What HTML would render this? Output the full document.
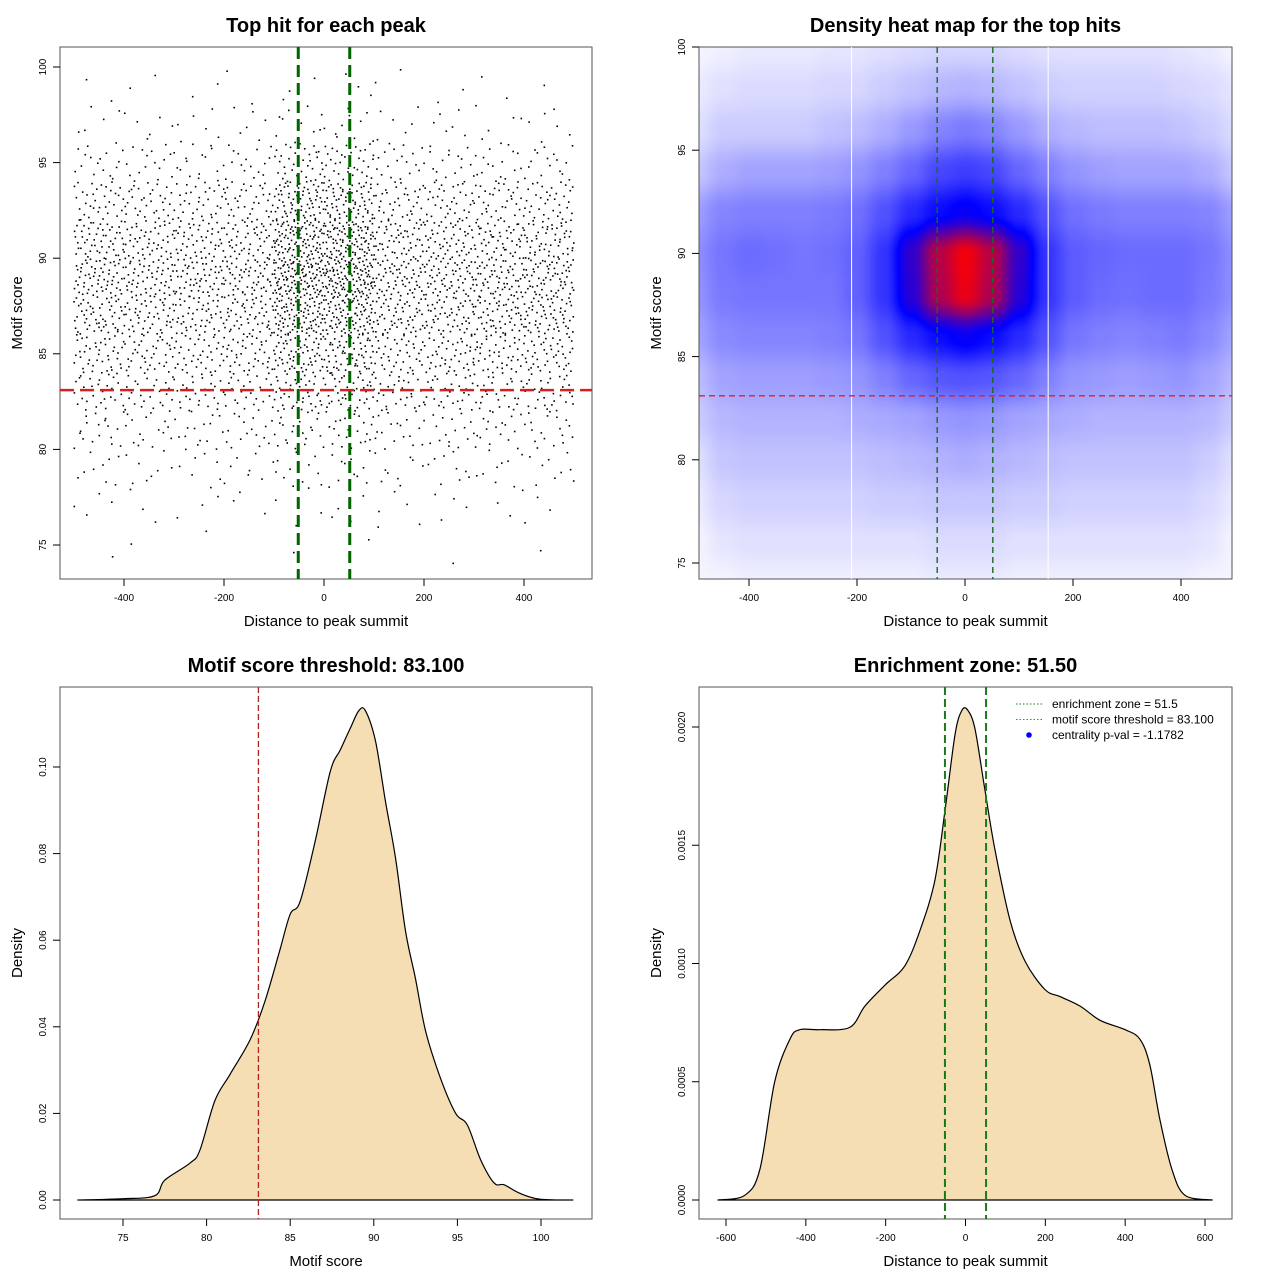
<!DOCTYPE html>
<html><head><meta charset="utf-8">
<style>
body{margin:0;background:#fff;}
#wrap{position:relative;width:1280px;height:1280px;overflow:hidden;font-family:"Liberation Sans",sans-serif;}
#heat{position:absolute;left:699px;top:47px;}
#svg{position:absolute;left:0;top:0;}
</style></head>
<body>
<div id="wrap">
<canvas id="heat" width="533" height="532"></canvas>
<svg id="svg" width="1280" height="1280" xmlns="http://www.w3.org/2000/svg"></svg>
</div>
<script>
// ---------- DATA ----------
const scoreBins = [99,97,95,93,91,89,87,85,83,81,79,77,75];
const distBins = [-450,-350,-250,-150,-50,50,150,250,350,450];
const cellCounts = [
 [2,2,2,2,3,3,2,2,2,1],
 [6,6,6,6,10,10,6,6,6,6],
 [16,16,16,16,35,35,18,18,16,16],
 [34,32,32,34,70,70,36,34,34,34],
 [52,48,48,50,100,100,54,52,52,54],
 [62,58,58,60,120,120,64,62,62,64],
 [55,50,50,52,95,95,55,55,58,60],
 [42,38,38,40,65,65,42,42,44,44],
 [30,27,27,28,42,42,30,30,30,30],
 [18,15,15,16,22,22,17,17,17,18],
 [9,8,8,8,11,11,9,9,9,9],
 [4,3,3,3,4,4,4,4,3,3],
 [1,1,1,0,1,1,1,1,0,1]
];
const zone = 51.5;
const threshold = 83.1;
const heatX = [-500,-450,-400,-350,-300,-250,-200,-150,-100,-50,0,50,100,150,200,250,300,350,400,450,500];
const heatY = [100,98,96,94,92,90,88,86,84,82,80,78,76,74];
const heatVals = [
 [.02,.03,.04,.04,.04,.05,.05,.06,.07,.08,.08,.08,.07,.06,.06,.06,.06,.06,.05,.04,.02],
 [.04,.06,.07,.07,.07,.08,.08,.1,.12,.14,.15,.14,.12,.1,.09,.09,.09,.09,.08,.07,.05],
 [.06,.1,.1,.1,.1,.12,.13,.16,.2,.24,.26,.24,.2,.16,.14,.13,.13,.13,.12,.1,.07],
 [.11,.16,.18,.18,.18,.19,.21,.25,.3,.36,.38,.36,.3,.25,.21,.19,.18,.18,.18,.16,.11],
 [.19,.24,.25,.25,.25,.26,.28,.34,.42,.48,.52,.48,.42,.34,.28,.26,.25,.25,.25,.24,.19],
 [.22,.27,.29,.28,.27,.28,.31,.4,.6,.86,.98,.86,.6,.4,.32,.3,.29,.29,.29,.27,.22],
 [.21,.26,.27,.27,.27,.27,.31,.4,.58,.84,.96,.84,.58,.4,.32,.29,.28,.29,.29,.26,.22],
 [.18,.23,.24,.24,.24,.25,.27,.34,.42,.48,.52,.48,.42,.34,.27,.25,.24,.25,.26,.23,.18],
 [.13,.18,.19,.19,.19,.2,.21,.25,.3,.33,.34,.33,.3,.25,.21,.2,.19,.2,.21,.18,.14],
 [.1,.14,.15,.15,.15,.15,.16,.17,.18,.2,.21,.2,.18,.17,.16,.15,.15,.15,.15,.14,.1],
 [.06,.11,.12,.12,.12,.12,.12,.13,.14,.15,.16,.15,.14,.13,.12,.12,.12,.12,.12,.1,.06],
 [.04,.08,.09,.09,.09,.09,.09,.1,.1,.11,.11,.11,.1,.1,.09,.09,.09,.09,.09,.07,.04],
 [.02,.05,.06,.06,.06,.06,.06,.06,.06,.07,.07,.07,.06,.06,.06,.06,.06,.06,.06,.05,.02],
 [.02,.02,.03,.03,.03,.03,.03,.03,.03,.04,.04,.04,.03,.03,.03,.03,.03,.03,.03,.02,.02]
];
const heatSeams = [-210,154];
const scoreX = [72.3,75,76.9,77.5,79,79.6,80.5,81.4,82.6,83.5,84.4,85,85.6,86.5,87.4,88,88.6,89.1,89.5,90.1,90.7,91.3,91.9,92.5,93.1,94,94.9,95.6,96.4,97.2,97.8,98.7,99.9,101.9];
const scoreD = [0,0.0003,0.001,0.0046,0.0085,0.0115,0.023,0.029,0.037,0.046,0.058,0.066,0.069,0.083,0.099,0.104,0.109,0.113,0.113,0.106,0.092,0.079,0.062,0.051,0.039,0.028,0.020,0.0173,0.0092,0.0039,0.0035,0.0016,0.0002,0];
const distX = [-620,-553,-515,-478,-440,-415,-365,-290,-252,-201,-152,-114,-77,-51,-26,-9,6,24,49,74,112,149,199,237,287,337,400,437,462,487,517,550,618];
const distD = [0,0.00002,0.00013,0.0005,0.00068,0.00072,0.00072,0.00073,0.00082,0.00091,0.00099,0.00114,0.00135,0.00165,0.00197,0.00207,0.00207,0.00199,0.00173,0.00148,0.00118,0.00101,0.00089,0.00086,0.00082,0.00076,0.00072,0.00068,0.00057,0.00034,0.00013,0.00002,0];
const ticks1X = [-400,-200,0,200,400];
const ticks1Y = [75,80,85,90,95,100];
const ticks3X = [75,80,85,90,95,100];
const ticks3Y = ["0.00","0.02","0.04","0.06","0.08","0.10"];
const ticks4X = [-600,-400,-200,0,200,400,600];
const ticks4Y = ["0.0000","0.0005","0.0010","0.0015","0.0020"];

// ---------- DRAWING ----------
const NS="http://www.w3.org/2000/svg";
const svg=document.getElementById('svg');
function el(tag,attrs,parent){const e=document.createElementNS(NS,tag);for(const k in attrs)e.setAttribute(k,attrs[k]);(parent||svg).appendChild(e);return e;}
function txt(s,x,y,size,opts,parent){const t=el('text',Object.assign({x:x,y:y,'font-size':size,'text-anchor':'middle',fill:'#000','font-family':'Liberation Sans, sans-serif'},opts||{}),parent);t.textContent=s;return t;}
function lin(d0,d1,p0,p1){return v=>p0+(v-d0)*(p1-p0)/(d1-d0);}

function frame(name,L,T,R,B,title,xlab,ylab){
  const g=el('g',{});
  
  
  const r=el('rect',{x:L,y:T,width:R-L,height:B-T,fill:'none',stroke:'#555','stroke-width':1},g);
  
  const t=txt(title,(L+R)/2,T-15,20,{'font-weight':'bold'},g);
  
  const xt=txt(xlab,(L+R)/2,B+47,15,{},g);
  
  const yt=txt(ylab,0,0,15,{transform:`translate(${L-38},${(T+B)/2}) rotate(-90)`},g);
  
  return g;
}
function axes(g,B,L,xs,xLabels,xScale,ys,yLabels,yScale){
  const ax=el('g',{},g);
  
  xs.forEach((v,i)=>{const x=xScale(v);el('line',{x1:x,x2:x,y1:B,y2:B+7,stroke:'#000'},ax);
    const t=txt(xLabels[i],x,B+22,10,{},ax);});
  const ay=el('g',{},g);
  
  ys.forEach((v,i)=>{const y=yScale(v);el('line',{x1:L-7,x2:L,y1:y,y2:y,stroke:'#000'},ay);
    const t=txt(yLabels[i],0,0,10,{transform:`translate(${L-14},${y}) rotate(-90)`},ay);});
}

// Panel 1: scatter
(function(){
  const L=60,T=47,R=592,B=579;
  const X=lin(0,400,324,524), Y=lin(75,100,545,67);
  const g=frame('scatter-panel',L,T,R,B,'Top hit for each peak','Distance to peak summit','Motif score');
  axes(g,B,L,ticks1X,ticks1X,X,ticks1Y,ticks1Y,Y);
  const pts=el('g',{fill:'#000'},g);
  
  function halton(i,b){let f=1,r=0;while(i>0){f/=b;r+=f*(i%b);i=Math.floor(i/b);}return r;}
  let idx=1;
  scoreBins.forEach((s,ri)=>{distBins.forEach((d,ci)=>{
    const n=cellCounts[ri][ci];
    for(let k=0;k<n;k++){idx++;
      const dx=d-50+100*halton(idx,2), sy=s-1+2*halton(idx,3);
      const c=el('rect',{x:(X(dx)-0.8).toFixed(1),y:(Y(sy)-0.8).toFixed(1),width:1.6,height:1.6},pts);
      
      
    }});});
  [-zone,zone].forEach(z=>{const l=el('line',{x1:X(z),x2:X(z),y1:T,y2:B,stroke:'#006400','stroke-width':3,'stroke-dasharray':'12,6'},g);
    });
  const h=el('line',{x1:L,x2:R,y1:Y(threshold),y2:Y(threshold),stroke:'#d62020','stroke-width':2.5,'stroke-dasharray':'14,6'},g);
  
})();

// Panel 2: heatmap
(function(){
  const L=699,T=47,R=1232,B=579;
  const X=lin(0,400,965,1181), Y=lin(75,100,563,47);
  const cv=document.getElementById('heat');const ctx=cv.getContext('2d');
  const W=cv.width,H=cv.height;const img=ctx.createImageData(W,H);
  function interp(arr,v){
    if(arr[0]<arr[arr.length-1]){for(let i=0;i<arr.length-1;i++){if(v<=arr[i+1])return i+Math.max(0,(v-arr[i])/(arr[i+1]-arr[i]));}return arr.length-1;}
    for(let i=0;i<arr.length-1;i++){if(v>=arr[i+1])return i+Math.max(0,(arr[i]-v)/(arr[i]-arr[i+1]));}return arr.length-1;}
  const Xi=lin(965,1181,0,400), Yi=lin(563,47,75,100);
  const sx=t=>t*t*(3-2*t);
  for(let py=0;py<H;py++){const sv=Yi(py+T);let fy=interp(heatY,sv);fy=Math.min(fy,heatY.length-1.0001);const iy=Math.floor(fy),ty=fy-iy;
    for(let px=0;px<W;px++){const dv=Xi(px+L);let fx=interp(heatX,dv);fx=Math.min(fx,heatX.length-1.0001);const ix=Math.floor(fx),tx=fx-ix;
      const a=sx(tx),b=sx(ty);
      const v=(heatVals[iy][ix]*(1-a)+heatVals[iy][ix+1]*a)*(1-b)+(heatVals[iy+1][ix]*(1-a)+heatVals[iy+1][ix+1]*a)*b;
      let r,gg,bb;
      if(v<0.5){const t=v/0.5;r=255*(1-t);gg=255*(1-t);bb=255;}else{const t=Math.min(1,(v-0.5)/0.5);r=255*t;gg=0;bb=255*(1-t);}
      const o=(py*W+px)*4;img.data[o]=r;img.data[o+1]=gg;img.data[o+2]=bb;img.data[o+3]=255;}}
  ctx.putImageData(img,0,0);
  const g=frame('heatmap-panel',L,T,R,B,'Density heat map for the top hits','Distance to peak summit','Motif score');
  axes(g,B,L,ticks1X,ticks1X,X,ticks1Y,ticks1Y,Y);
  heatSeams.forEach(s=>{const l=el('line',{x1:X(s),x2:X(s),y1:T,y2:B,stroke:'#fff','stroke-width':1},g);
    });
  [-zone,zone].forEach(z=>{const l=el('line',{x1:X(z),x2:X(z),y1:T,y2:B,stroke:'#1a6b1a','stroke-width':1.4,'stroke-dasharray':'6,4'},g);
    });
  const h=el('line',{x1:L,x2:R,y1:Y(threshold),y2:Y(threshold),stroke:'#e02020','stroke-width':1.4,'stroke-dasharray':'6,4'},g);
  
})();

function smoothPath(P){
  let d='M'+P[0][0].toFixed(1)+','+P[0][1].toFixed(1);
  for(let i=0;i<P.length-1;i++){
    const p0=P[Math.max(0,i-1)],p1=P[i],p2=P[i+1],p3=P[Math.min(P.length-1,i+2)];
    const c1=[p1[0]+(p2[0]-p0[0])/6,p1[1]+(p2[1]-p0[1])/6];
    const c2=[p2[0]-(p3[0]-p1[0])/6,p2[1]-(p3[1]-p1[1])/6];
    d+=` C${c1[0].toFixed(1)},${c1[1].toFixed(1)} ${c2[0].toFixed(1)},${c2[1].toFixed(1)} ${p2[0].toFixed(1)},${p2[1].toFixed(1)}`;
  }
  return d;
}
function densityPanel(name,L,T,R,B,title,xlab,xs,ys,X,Y,xt,xtl,yt,ytl){
  const g=frame(name,L,T,R,B,title,xlab,'Density');
  axes(g,B,L,xt,xtl,X,yt,ytl,Y);
  const P=xs.map((v,i)=>[X(v),Y(ys[i])]);
  const d=smoothPath(P)+' Z';
  const p=el('path',{d:d,fill:'#f5deb3',stroke:'#000','stroke-width':1.2,'stroke-linejoin':'round'},g);
  
  return g;
}
// Panel 3
(function(){
  const L=60,T=687,R=592,B=1219;
  const X=lin(75,100,123,541), Y=lin(0,0.1,1200,767);
  const g=densityPanel('score-density-panel',L,T,R,B,'Motif score threshold: 83.100','Motif score',scoreX,scoreD,X,Y,ticks3X,ticks3X,ticks3Y.map(Number),ticks3Y);
  const l=el('line',{x1:X(threshold),x2:X(threshold),y1:T,y2:B,stroke:'#b22222','stroke-width':1.3,'stroke-dasharray':'6,3'},g);
  
})();
// Panel 4
(function(){
  const L=699,T=687,R=1232,B=1219;
  const X=lin(0,600,965.5,1205), Y=lin(0,0.002,1200,727);
  const g=densityPanel('distance-density-panel',L,T,R,B,'Enrichment zone: 51.50','Distance to peak summit',distX,distD,X,Y,ticks4X,ticks4X,ticks4Y.map(Number),ticks4Y);
  [-zone,zone].forEach(z=>{const l=el('line',{x1:X(z),x2:X(z),y1:T,y2:B,stroke:'#1a7a1a','stroke-width':2,'stroke-dasharray':'8,4'},g);
    });
  const lg=el('g',{},g);
  
  const items=[['enrichment zone = 51.5','#1a7a1a','line'],['motif score threshold = 83.100','#f03030','line'],['centrality p-val = -1.1782','#0000ff','dot']];
  items.forEach((it,i)=>{const y=704+i*15.5;
    const e=el('g',{},lg);
    if(it[2]==='line')el('line',{x1:1016,x2:1042,y1:y,y2:y,stroke:it[1],'stroke-width':1,'stroke-dasharray':'1.5,2'},e);
    else el('circle',{cx:1029,cy:y,r:2.8,fill:it[1]},e);
    txt(it[0],1052,y+4,12,{'text-anchor':'start'},e);});
})();
</script>
</body></html>
